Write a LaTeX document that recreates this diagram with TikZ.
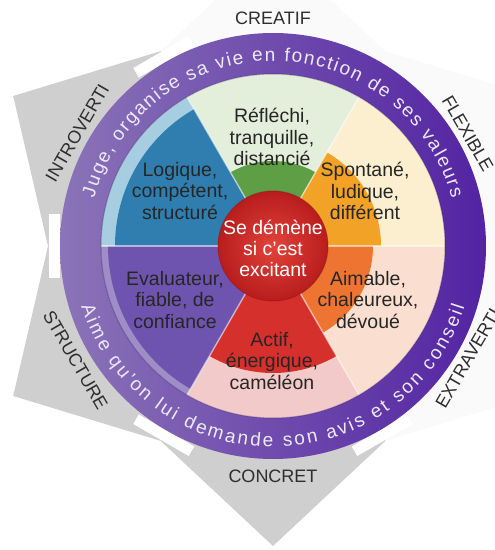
\documentclass[tikz,border=0pt]{standalone}
\usepackage{fontspec}
\setmainfont{Liberation Sans}
\usetikzlibrary{decorations.text,calc}
\definecolor{greyshape}{HTML}{CFCFCF}
\definecolor{faintshape}{HTML}{FAFAFA}
\definecolor{ringL}{HTML}{8B74B8}
\definecolor{ringR}{HTML}{5323A2}
\definecolor{ringtxt}{HTML}{EEEAF5}
\definecolor{greenS}{HTML}{5E9E45}
\definecolor{greenP}{HTML}{E3EEDB}
\definecolor{yellowS}{HTML}{F2A227}
\definecolor{yellowP}{HTML}{FCEFD0}
\definecolor{orangeS}{HTML}{EE7431}
\definecolor{orangeP}{HTML}{FADFD0}
\definecolor{redS}{HTML}{D6302C}
\definecolor{redP}{HTML}{F3CACA}
\definecolor{purpleS}{HTML}{6E54AE}
\definecolor{purpleP}{HTML}{A08CC6}
\definecolor{blueS}{HTML}{2F7EAF}
\definecolor{blueP}{HTML}{A6CDE0}
\definecolor{coreIn}{HTML}{E2433B}
\definecolor{coreOut}{HTML}{B81D1D}
\definecolor{txt}{HTML}{262626}
\definecolor{lbltxt}{HTML}{2E2E2E}
\newcommand\ringfont{\fontsize{19}{19}\selectfont}
\tikzset{
  sectortext/.style={align=center, text=txt, font=\fontsize{19.5}{21.5}\selectfont, inner sep=0pt},
  coretext/.style={align=center, text=white, font=\fontsize{19.5}{21}\selectfont, inner sep=0pt},
  lbl/.style={text=lbltxt, font=\fontsize{18}{18}\selectfont, inner sep=0pt},
}
\begin{document}
\begin{tikzpicture}[x=1pt,y=1pt]
\useasboundingbox (0,0) rectangle (495,550);
\coordinate (C) at (273,304);
% background arrow shapes
\foreach \a/\col in {90/faintshape,30/faintshape,-30/faintshape,-90/greyshape,-150/greyshape,150/greyshape}{
  \fill[\col, shift={(C)}] (0,0) -- (\a-30:225) -- (\a:300) -- (\a+30:225) -- cycle;
}
% white bars between shapes
\foreach \b in {120,180,240,300}{
  \fill[white, shift={(C)}, rotate=\b] (213,-32) rectangle (224,32);
}
% outer ring
\shade[left color=ringL, right color=ringR, even odd rule] (C) circle[radius=213] (C) circle[radius=172];
% sectors
\foreach \s/\pc/\sc/\r in {90/greenP/greenS/85, 30/yellowP/yellowS/108, -30/orangeP/orangeS/100, -90/redP/redS/127, -150/purpleP/purpleS/165, 150/blueP/blueS/158}{
  \fill[\pc, shift={(C)}] (0,0) -- (\s-30:172) arc[start angle=\s-30, end angle=\s+30, radius=172] -- cycle;
  \fill[\sc, shift={(C)}] (0,0) -- (\s-30:\r) arc[start angle=\s-30, end angle=\s+30, radius=\r] -- cycle;
}
\foreach \b in {0,60,...,300}{
  \draw[white, opacity=.55, line width=1.4, shift={(C)}] (\b:50) -- (\b:172);
}
\draw[ringR!60!black, opacity=.35, line width=1] (C) circle[radius=172];
% centre
\shade[inner color=coreIn, outer color=coreOut] (C) circle[radius=55];
\draw[coreOut!80!black, opacity=.5, line width=1] (C) circle[radius=55];
% ring texts
\path[shift={(C)}, decorate, decoration={text along path, text={|\ringfont\color{ringtxt}|Juge, organise sa vie en fonction de ses valeurs}, text align={fit to path}}] (165:185) arc[start angle=165, end angle=15, radius=185];
\path[shift={(C)}, decorate, decoration={text along path, text={|\ringfont\color{ringtxt}|Aime qu'on lui demande son avis et son conseil}, text align={fit to path}}] (197.5:201) arc[start angle=197.5, end angle=342.5, radius=201];
% sector texts
\node[sectortext] (reflechi) at (272,413) {Réfléchi,\\tranquille,\\distancié};
\node[sectortext] (logique) at (180,359) {Logique,\\compétent,\\structuré};
\node[sectortext] (spontane) at (365,359) {Spontané,\\ludique,\\différent};
\node[coretext] (core) at (273,302) {Se démène\\si c'est\\excitant};
\node[sectortext] (evaluateur) at (175,250) {Evaluateur,\\fiable, de\\confiance};
\node[sectortext] (aimable) at (368,250) {Aimable,\\chaleureux,\\dévoué};
\node[sectortext] (actif) at (272,189) {Actif,\\énergique,\\caméléon};
% outer labels
\node[lbl] (creatif) at ($(C)+(90:228)$) {CREATIF};
\node[lbl, rotate=-60] (flexible) at ($(C)+(30:225)$) {FLEXIBLE};
\node[lbl, rotate=60] (introverti) at ($(C)+(150:226)$) {INTROVERTI};
\node[lbl, rotate=-60] (structure) at ($(C)+(-150:228)$) {STRUCTURE};
\node[lbl] (concret) at ($(C)+(-90:230)$) {CONCRET};
\node[lbl, rotate=60] (extraverti) at ($(C)+(-30:225)$) {EXTRAVERTI};
\end{tikzpicture}
\end{document}
